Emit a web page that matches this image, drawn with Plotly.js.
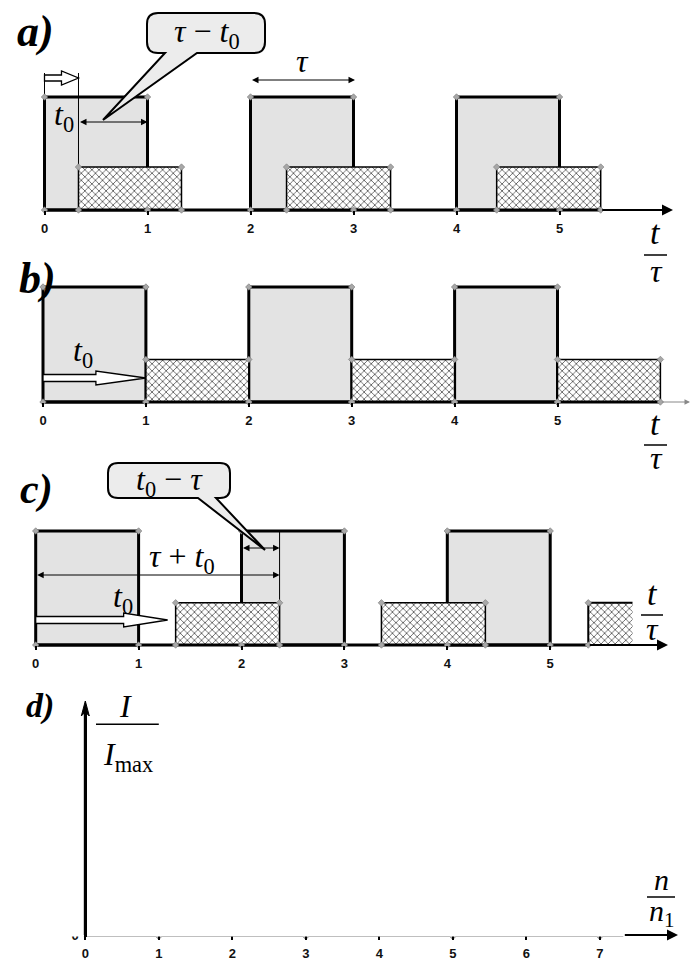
<!DOCTYPE html>
<html><head><meta charset="utf-8">
<script src="https://cdn.plot.ly/plotly-3.0.1.min.js"></script>
<style>html,body{margin:0;padding:0;background:#fff}#chart{width:699px;height:965px}</style>
</head><body><div id="chart"></div>
<script>
// ---------------- data ----------------
const tickValsT = [0, 1, 2, 3, 4, 5];
const tickLabelsT = ['0', '1', '2', '3', '4', '5'];
const pulseHigh = 1.0;
const hatchHighA = 0.38, hatchHighB = 0.37, hatchHighC = 0.37;
// panel a
const aPulseStart = [0, 2, 4];
const aPulseEnd   = [1, 3, 5];
const aHatchStart = [0.33, 2.35, 4.39];
const aHatchEnd   = [1.33, 3.36, 5.40];
// panel b
const bPulseStart = [0, 2, 4];
const bPulseEnd   = [1, 3, 5];
const bHatchStart = [1, 3, 5];
const bHatchEnd   = [2, 4, 6];
// panel c
const cPulseStart = [0, 2, 4];
const cPulseEnd   = [1, 3, 5];
const cHatchStart = [1.36, 3.36, 5.37];
const cHatchEnd   = [2.37, 4.37, 5.80];
// panel d
const dN = [0, 1, 2, 3, 4, 5, 6, 7];
const dI = [1, 0, 1, 0, 1, 0, 1, 0];
const dXTickLabels = ['0', '1', '2', '3', '4', '5', '6', '7'];
const dYTickVals = [0, 0.2, 0.4, 0.6, 0.8, 1, 1.2];
const dYTickLabels = ['0', '0,2', '0,4', '0,6', '0,8', '1', ''];

// ---------------- geometry ----------------
const W = 699, H = 965;
const P = {
  a: {ox: 44.5, sx: 103,   oy: 210, sy: 113,   top: 0,   bot: 240, xa: 'x',  ya: 'y'},
  b: {ox: 43,   sx: 102.9, oy: 402, sy: 115,   top: 240, bot: 460, xa: 'x2', ya: 'y2'},
  c: {ox: 35.7, sx: 102.9, oy: 645, sy: 114,   top: 460, bot: 680, xa: 'x3', ya: 'y3'},
  d: {ox: 85.3, sx: 73.5,  oy: 935, sy: 175.7, top: 680, bot: 965, xa: 'x4', ya: 'y4'}
};
const dy = (p, py) => (p.oy - py) / p.sy;
const dx = (p, px) => (px - p.ox) / p.sx;
const X = px => px / W, Y = py => 1 - py / H;

const tickFont = {family: 'Liberation Sans, Arial', size: 13, color: '#111', weight: 'bold'};
function xAxis(p, vals, text) {
  return {domain: [0, 1], range: [-p.ox / p.sx, (W - p.ox) / p.sx], anchor: 'free', position: 1 - p.oy / H,
    showline: false, showgrid: false, zeroline: false, ticks: 'outside', ticklen: 4, tickwidth: 2,
    tickcolor: '#000', tickvals: vals, ticktext: text, tickfont: Object.assign({}, tickFont), ticklabelstandoff: 2};
}
function yAxis(p, xa) {
  return {domain: [1 - p.bot / H, 1 - p.top / H], range: [(p.oy - p.bot) / p.sy, (p.oy - p.top) / p.sy],
    anchor: xa, visible: false};
}

// ---------------- traces ----------------
const traces = [];
function addPulses(p, s, e, h) {
  s.forEach((x0, i) => traces.push({type: 'scatter', mode: 'lines', x: [x0, x0, e[i], e[i], x0], y: [0, h, h, 0, 0],
    xaxis: p.xa, yaxis: p.ya, fill: 'toself', fillcolor: '#e3e3e3', line: {color: '#000', width: 3}, hoverinfo: 'skip'}));
}
const patt = {shape: 'x', size: 5, solidity: 0.3, fgcolor: '#555', bgcolor: '#ffffff', fillmode: 'replace'};
function addHatch(p, s, e, h, openLast) {
  s.forEach((x0, i) => {
    const open = openLast && i === s.length - 1;
    traces.push({type: 'scatter', mode: 'lines', x: [x0, x0, e[i], e[i], x0], y: [0, h, h, 0, 0],
      xaxis: p.xa, yaxis: p.ya, fill: 'toself', fillcolor: '#ffffff', fillpattern: patt,
      line: {color: '#000', width: open ? 0 : 1.5}, hoverinfo: 'skip'});
    if (open) traces.push({type: 'scatter', mode: 'lines', x: [x0, x0, e[i]], y: [0, h, h], xaxis: p.xa, yaxis: p.ya,
      line: {color: '#000', width: 2}, hoverinfo: 'skip'});
  });
}
function addBase(p, x1) {
  traces.push({type: 'scatter', mode: 'lines', x: [0, x1], y: [0, 0], xaxis: p.xa, yaxis: p.ya,
    line: {color: '#000', width: 3}, hoverinfo: 'skip'});
}
function addMarkers(p, groups) {
  const xs = [], ys = [];
  groups.forEach(g => g.s.forEach((x0, i) => {
    xs.push(x0, x0); ys.push(0, g.h);
    if (!(g.open && i === g.s.length - 1)) { xs.push(g.e[i], g.e[i]); ys.push(g.h, 0); }
  }));
  traces.push({type: 'scatter', mode: 'markers', x: xs, y: ys, xaxis: p.xa, yaxis: p.ya, hoverinfo: 'skip',
    marker: {symbol: 'diamond', size: 5, color: '#a8a8a8', line: {color: '#777', width: 0.6}}});
}
addPulses(P.a, aPulseStart, aPulseEnd, pulseHigh);
addHatch(P.a, aHatchStart, aHatchEnd, hatchHighA, false);
addBase(P.a, aHatchEnd[aHatchEnd.length - 1]);
const aGuideTop = dy(P.a, 73);
traces.push({type: 'scatter', mode: 'lines', x: [0, 0.0001], y: [pulseHigh, aGuideTop], xaxis: 'x', yaxis: 'y',
  line: {color: '#000', width: 1}, hoverinfo: 'skip'});
traces.push({type: 'scatter', mode: 'lines', x: [aHatchStart[0], aHatchStart[0]], y: [hatchHighA, aGuideTop], xaxis: 'x', yaxis: 'y',
  line: {color: '#000', width: 1}, hoverinfo: 'skip'});
addMarkers(P.a, [{s: aPulseStart, e: aPulseEnd, h: pulseHigh}, {s: aHatchStart, e: aHatchEnd, h: hatchHighA}]);
addPulses(P.b, bPulseStart, bPulseEnd, pulseHigh);
addHatch(P.b, bHatchStart, bHatchEnd, hatchHighB, false);
addBase(P.b, bHatchEnd[bHatchEnd.length - 1]);
addMarkers(P.b, [{s: bPulseStart, e: bPulseEnd, h: pulseHigh}, {s: bHatchStart, e: bHatchEnd, h: hatchHighB}]);
addPulses(P.c, cPulseStart, cPulseEnd, pulseHigh);
addHatch(P.c, cHatchStart, cHatchEnd, hatchHighC, true);
addBase(P.c, cHatchStart[cHatchStart.length - 1]);
traces.push({type: 'scatter', mode: 'lines', x: [cHatchEnd[0], cHatchEnd[0]], y: [0, pulseHigh], xaxis: 'x3', yaxis: 'y3',
  line: {color: '#000', width: 1}, hoverinfo: 'skip'});
addMarkers(P.c, [{s: cPulseStart, e: cPulseEnd, h: pulseHigh}, {s: cHatchStart, e: cHatchEnd, h: hatchHighC, open: true}]);
// panel d
const dGridEnd = dx(P.d, 641);
const dTopY = dYTickVals[dYTickVals.length - 1];
const dAxisTop = dy(P.d, 712);
const dAxisEnd = 7.32;
traces.push({type: 'scatter', mode: 'lines', x: [0, 0, dAxisEnd], y: [dAxisTop, 0, 0], xaxis: 'x4', yaxis: 'y4',
  line: {color: '#000', width: 3}, hoverinfo: 'skip'});
traces.push({type: 'scatter', mode: 'lines+markers', x: dN, y: dI, xaxis: 'x4', yaxis: 'y4', hoverinfo: 'skip',
  line: {color: '#000', width: 3},
  marker: {symbol: 'diamond', size: 7, color: '#a8a8a8', line: {color: '#808080', width: 0.8}}});
// helper trace that makes the separate vertical-axis line (yaxis5) exist
traces.push({type: 'scatter', mode: 'markers', x: [0], y: [0], xaxis: 'x4', yaxis: 'y5', hoverinfo: 'skip',
  marker: {size: 1, opacity: 0}});

// ---------------- shapes ----------------
const shapes = [];
dN.slice(1).forEach(n => shapes.push({type: 'line', xref: 'x4', yref: 'y4', x0: n, x1: n, y0: 0, y1: dTopY,
  line: {color: '#000', width: 1, dash: '3px,2px'}, layer: 'below'}));
dYTickVals.slice(1, -1).forEach(v => shapes.push({type: 'line', xref: 'x4', yref: 'y4', x0: 0, x1: dGridEnd, y0: v, y1: v,
  line: {color: '#000', width: 1, dash: '3px,2px'}, layer: 'below'}));
shapes.push({type: 'line', xref: 'x4', yref: 'y4', x0: 1, x1: dGridEnd, y0: dTopY, y1: dTopY,
  line: {color: '#999', width: 1}, layer: 'below'});
shapes.push({type: 'line', xref: 'x4', yref: 'y4', x0: dx(P.d, 96), x1: 1, y0: dTopY, y1: dTopY,
  line: {color: '#000', width: 1.5}});
shapes.push({type: 'line', xref: 'x4', yref: 'y4', x0: 0, x1: 0, y0: 0, y1: dAxisTop, line: {color: '#000', width: 3}});
const yAxX = P.d.ox;
shapes.push({type: 'path', xref: 'paper', yref: 'paper', fillcolor: '#000', line: {color: '#000', width: 1},
  path: 'M' + X(yAxX) + ',' + Y(701) + 'L' + X(yAxX - 4) + ',' + Y(716) + 'L' + X(yAxX) + ',' + Y(712) +
        'L' + X(yAxX + 4) + ',' + Y(716) + 'Z'});
function bar(x0, x1, y, w) { shapes.push({type: 'line', xref: 'paper', yref: 'paper', x0: X(x0), x1: X(x1), y0: Y(y), y1: Y(y), line: {color: '#000', width: w || 1.5}}); }
bar(644, 667, 255); bar(644, 667, 445); bar(641, 663, 615); bar(647, 675, 897);
function hollow(x0, x1, yc, sh, hh, hl) {
  const pts = [[x0, yc - sh], [x1 - hl, yc - sh], [x1 - hl, yc - hh], [x1, yc], [x1 - hl, yc + hh], [x1 - hl, yc + sh], [x0, yc + sh]];
  const path = 'M' + pts.map(q => X(q[0]) + ',' + Y(q[1])).join('L') + 'Z';
  shapes.push({type: 'path', xref: 'paper', yref: 'paper', path, fillcolor: '#fff', line: {color: '#000', width: 1.3}});
}
const pxA = x => P.a.ox + P.a.sx * x, pxB = x => P.b.ox + P.b.sx * x, pxC = x => P.c.ox + P.c.sx * x;
hollow(pxA(0), pxA(aHatchStart[0]), 78, 3, 7, 17);
hollow(pxB(0), pxB(bHatchStart[0]), 378, 3.5, 7, 50);
hollow(pxC(0), pxC(cHatchStart[0]) - 8, 620, 3.5, 7, 44);
function callout(x0, y0, x1, y1, r, bx0, bx1, tx, ty) {
  const f = (a, b) => X(a) + ',' + Y(b);
  const path = 'M' + f(x0 + r, y0) + 'L' + f(x1 - r, y0) + 'Q' + f(x1, y0) + ' ' + f(x1, y0 + r) +
    'L' + f(x1, y1 - r) + 'Q' + f(x1, y1) + ' ' + f(x1 - r, y1) + 'L' + f(bx1, y1) + 'L' + f(tx, ty) +
    'L' + f(bx0, y1) + 'L' + f(x0 + r, y1) + 'Q' + f(x0, y1) + ' ' + f(x0, y1 - r) + 'L' + f(x0, y0 + r) +
    'Q' + f(x0, y0) + ' ' + f(x0 + r, y0) + 'Z';
  shapes.push({type: 'path', xref: 'paper', yref: 'paper', path, fillcolor: '#ececec', line: {color: '#000', width: 2}});
}
callout(147, 13, 265, 53, 11, 165, 197, 103, 120);
callout(108, 463, 230, 498, 10, 198, 216, 265, 550);

// ---------------- annotations ----------------
const ann = [];
const serif = 'Liberation Serif, Times New Roman, serif';
function T(px, py, text, size, extra) {
  ann.push(Object.assign({xref: 'paper', yref: 'paper', x: X(px), y: Y(py), text, showarrow: false,
    xanchor: 'center', yanchor: 'middle', font: {family: serif, size, color: '#000'}}, extra || {}));
}
function axisArrow(p, x0, x1, w, col) {
  ann.push({xref: p.xa, yref: p.ya, axref: p.xa, ayref: p.ya, x: x1, y: 0, ax: x0, ay: 0, text: '', showarrow: true,
    arrowhead: 2, arrowsize: 1.1, arrowwidth: w, arrowcolor: col || '#000', standoff: 0, startstandoff: 0});
}
function dbl(p, x0, x1, py) {
  const yv = dy(p, py);
  ann.push({xref: p.xa, yref: p.ya, axref: p.xa, ayref: p.ya, x: x1, y: yv, ax: x0, ay: yv, text: '', showarrow: true,
    arrowside: 'end+start', arrowhead: 2, arrowsize: 1.3, arrowwidth: 1, arrowcolor: '#000', standoff: 0, startstandoff: 0});
}
axisArrow(P.a, aHatchEnd[2], dx(P.a, 673), 2);
axisArrow(P.b, bHatchEnd[2], dx(P.b, 690), 1, '#888');
axisArrow(P.c, cHatchStart[2], dx(P.c, 668), 2);
axisArrow(P.d, dAxisEnd, dx(P.d, 678), 2);
dbl(P.a, aPulseStart[1], dx(P.a, 355), 80);
dbl(P.a, aHatchStart[0], aPulseEnd[0], 122);
dbl(P.c, 0, cHatchEnd[0], 575);
dbl(P.c, cPulseStart[1], cHatchEnd[0], 548);

const tau = '\u03c4', minus = '\u2212';
T(35, 31, '<b><i>a)</i></b>', 44);
T(37, 278, '<b><i>b)</i></b>', 44);
T(36, 489, '<b><i>c)</i></b>', 42);
T(40, 706, '<b><i>d)</i></b>', 34);
T(207, 33, '<i>' + tau + '</i> ' + minus + ' <i>t</i><sub>0</sub>', 32);
T(169, 481, '<i>t</i><sub>0</sub> ' + minus + ' <i>' + tau + '</i>', 32);
T(302, 61, '<i>' + tau + '</i>', 32);
T(64, 116, '<i>t</i><sub>0</sub>', 32);
T(83, 352, '<i>t</i><sub>0</sub>', 32);
T(123, 598, '<i>t</i><sub>0</sub>', 32);
T(182, 558, '<i>' + tau + '</i> + <i>t</i><sub>0</sub>', 32);
T(655, 232, '<i>t</i>', 34); T(656, 271, '<i>' + tau + '</i>', 32);
T(655, 423, '<i>t</i>', 34); T(656, 458, '<i>' + tau + '</i>', 32);
T(652, 593, '<i>t</i>', 34); T(652, 629, '<i>' + tau + '</i>', 32);
T(661, 879, '<i>n</i>', 30); T(662, 913, '<i>n</i><sub>1</sub>', 30);
T(125, 706, '<i>I</i>', 32);
T(128, 756, '<i>I</i><sub>max</sub>', 32);

const layout = {
  width: W, height: H, margin: {l: 0, r: 0, t: 0, b: 0}, showlegend: false,
  xaxis: xAxis(P.a, tickValsT, tickLabelsT), yaxis: yAxis(P.a, 'x'),
  xaxis2: xAxis(P.b, tickValsT, tickLabelsT), yaxis2: yAxis(P.b, 'x2'),
  xaxis3: xAxis(P.c, tickValsT, tickLabelsT), yaxis3: yAxis(P.c, 'x3'),
  xaxis4: xAxis(P.d, dN, dXTickLabels),
  yaxis4: {domain: [1 - P.d.bot / H, 1 - P.d.top / H], range: [(P.d.oy - P.d.bot) / P.d.sy, (P.d.oy - P.d.top) / P.d.sy],
    anchor: 'free', position: P.d.ox / W, showline: false, showgrid: false,
    zeroline: false, ticks: 'outside', ticklen: 4, tickwidth: 2, tickcolor: '#000', tickvals: dYTickVals,
    ticktext: dYTickLabels, tickfont: Object.assign({}, tickFont)},
  yaxis5: {domain: [Y(P.d.oy + 1.5), Y(712)], range: [0, 1], anchor: 'free', position: P.d.ox / W,
    showline: true, linewidth: 3, linecolor: '#000', showticklabels: false, ticks: '', showgrid: false, zeroline: false},
  shapes, annotations: ann
};
Plotly.newPlot('chart', traces, layout, {staticPlot: true});
</script></body></html>
